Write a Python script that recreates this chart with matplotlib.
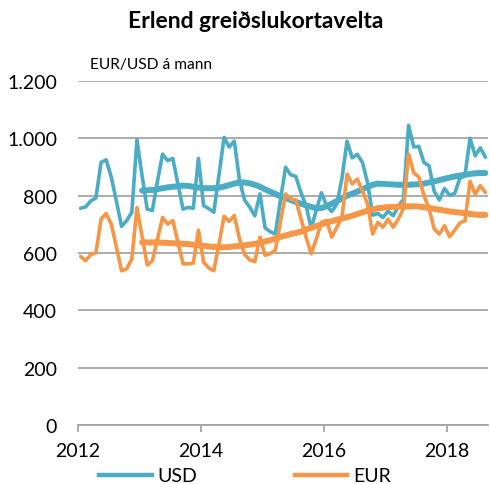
import numpy as np
import matplotlib
matplotlib.use("Agg")
import matplotlib.pyplot as plt
from matplotlib.lines import Line2D
from matplotlib.ticker import FuncFormatter

# ---- data (monthly, Jan 2012 - Aug 2018) ----
start_year = 2012
usd = [756, 761, 782, 792, 916, 925, 864, 780, 693, 713, 742, 995,
       870, 753, 748, 850, 945, 922, 930, 840, 753, 759, 756, 930,
       765, 755, 742, 872, 1003, 970, 990, 855, 785, 760, 730, 806,
       688, 674, 667, 785, 899, 873, 867, 811, 765, 686, 750, 810,
       765, 745, 770, 860, 990, 932, 944, 916, 845, 732, 738, 724,
       746, 730, 762, 788, 1045, 970, 972, 916, 904, 815, 785, 825,
       801, 808, 860, 870, 1000, 939, 967, 934]
eur = [588, 573, 595, 601, 718, 738, 700, 620, 538, 545, 579, 759,
       658, 558, 573, 648, 724, 701, 713, 637, 562, 562, 565, 680,
       568, 548, 538, 631, 728, 710, 731, 650, 595, 576, 570, 655,
       592, 598, 610, 708, 806, 788, 785, 720, 655, 597, 650, 707,
       713, 655, 690, 725, 875, 841, 858, 817, 770, 666, 707, 690,
       718, 690, 718, 755, 945, 880, 865, 800, 755, 684, 666, 695,
       657, 680, 705, 712, 850, 805, 835, 811]
# 12-month trend lines (thick), from Jan 2013
ma_start = 12
usd_ma = [818, 819, 820, 823, 826, 829, 831, 833, 835, 834, 831, 828,
          826, 826, 826, 828, 832, 837, 842, 846, 846, 843, 838, 831,
          822, 814, 806, 798, 792, 785, 778, 772, 766, 761, 756, 757,
          763, 772, 781, 790, 800, 807, 814, 822, 831, 838, 842, 841,
          840, 839, 838, 838, 838, 839, 840, 842, 846, 850, 854, 859,
          863, 867, 870, 873, 876, 878, 879, 879]
eur_ma = [637, 637, 637, 637, 636, 635, 634, 633, 632, 631, 629, 627,
          625, 623, 621, 620, 620, 621, 623, 625, 627, 629, 632, 636,
          640, 645, 650, 656, 661, 666, 670, 675, 682, 688, 694, 700,
          706, 711, 716, 720, 725, 730, 736, 742, 748, 752, 756, 758,
          760, 761, 762, 763, 763, 763, 762, 760, 757, 754, 751, 748,
          745, 743, 741, 739, 736, 734, 733, 733]
series_names = ["USD", "EUR"]
x_ticks = [2012, 2014, 2016, 2018]
y_ticks = [0, 200, 400, 600, 800, 1000, 1200]
title = "Erlend greiðslukortavelta"
unit_label = "EUR/USD á mann"

# ---- styling ----
C_USD = "#4BACC6"
C_EUR = "#F79646"
GRID = "#a6a6a6"
FONT = ["Lato", "DejaVu Sans"]
plt.rcParams["font.family"] = FONT

months = np.arange(len(usd))
x = start_year + (months + 0.5) / 12.0
x_ma = start_year + (np.arange(ma_start, ma_start + len(usd_ma)) + 0.5) / 12.0

fig = plt.figure(figsize=(4.9, 4.85), dpi=100)
ax = fig.add_axes([78 / 490, 1 - 426 / 485, 410 / 490, 344 / 485])

lw_thin, lw_thick = 2.6, 4.3
kw = dict(solid_joinstyle="round", solid_capstyle="round")
ax.plot(x, usd, color=C_USD, lw=lw_thin, zorder=3, **kw)
ax.plot(x_ma, usd_ma, color=C_USD, lw=lw_thick, zorder=4, **kw)
ax.plot(x, eur, color=C_EUR, lw=lw_thin, zorder=5, **kw)
ax.plot(x_ma, eur_ma, color=C_EUR, lw=lw_thick, zorder=6, **kw)

ax.set_xlim(2012, 2012 + 410 / 61.5)
ax.set_ylim(0, 1200)
ax.set_yticks(y_ticks)
ax.yaxis.set_major_formatter(FuncFormatter(lambda v, p: f"{int(v):,}".replace(",", ".")))
ax.set_xticks(x_ticks)
ax.set_xticklabels([str(t) for t in x_ticks])

for s in ["top", "right", "left"]:
    ax.spines[s].set_visible(False)
ax.spines["bottom"].set_color(GRID)
ax.spines["bottom"].set_linewidth(1.3)
ax.grid(axis="y", color=GRID, lw=1.3, zorder=0)
ax.set_axisbelow(True)
ax.tick_params(axis="y", length=0, pad=15, labelsize=14)
ax.tick_params(axis="x", length=5, width=1.3, color=GRID, pad=7.5, labelsize=14)

fig.text(256 / 490, 1 - 21 / 485, title, ha="center", va="center",
         fontsize=16.5, fontweight="bold")
fig.text(90 / 490, 1 - 65 / 485, unit_label, ha="left", va="center", fontsize=11.2)

handles = [Line2D([], [], color=C_USD, lw=3.2), Line2D([], [], color=C_EUR, lw=3.2)]
fig.legend(handles, series_names, ncol=2, loc="center",
           bbox_to_anchor=(245 / 490, 1 - 477 / 485), frameon=False,
           fontsize=14, handlelength=2.7, handletextpad=0.3, columnspacing=5.0,
           borderpad=0, borderaxespad=0)

fig.savefig("out.png", dpi=100)
